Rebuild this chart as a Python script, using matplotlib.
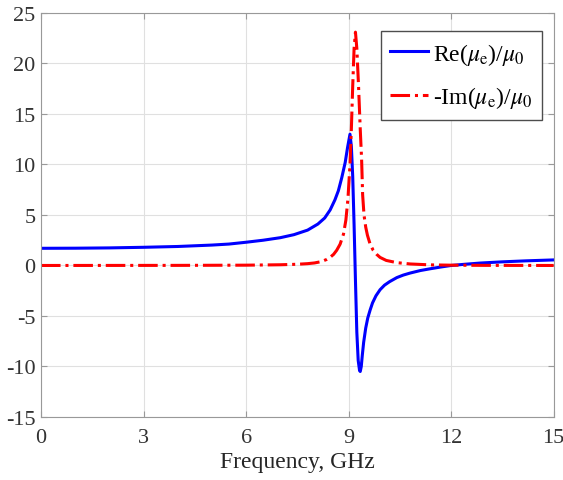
import matplotlib
matplotlib.use("Agg")
import matplotlib.pyplot as plt

# values (frequency in GHz)
freq_re = [0.0, 1.0, 2.0, 3.0, 4.0, 5.0, 5.5, 6.0, 6.5, 7.0, 7.4, 7.8, 8.1,
           8.3, 8.46, 8.6, 8.7, 8.8, 8.9, 8.97, 9.04, 9.08, 9.12, 9.16, 9.2,
           9.24, 9.28, 9.32, 9.34, 9.37, 9.4, 9.44, 9.5, 9.56, 9.63, 9.7, 9.8,
           9.92, 10.05, 10.2, 10.41, 10.6, 10.8, 11.1, 11.38, 11.7, 12.0,
           12.4, 12.85, 13.5, 14.2, 15.0]
re_mu = [1.7, 1.71, 1.74, 1.8, 1.88, 2.02, 2.12, 2.3, 2.5, 2.75, 3.05, 3.5,
         4.1, 4.7, 5.5, 6.5, 7.4, 8.7, 10.2, 11.7, 13.0, 11.8, 8.8, 4.0, -1.5,
         -6.6, -9.4, -10.4, -10.5, -10.0, -8.9, -7.6, -6.2, -5.2, -4.4, -3.7,
         -3.0, -2.4, -1.95, -1.6, -1.2, -0.95, -0.75, -0.5, -0.33, -0.15, 0.0,
         0.12, 0.24, 0.36, 0.46, 0.55]

freq_im = [0.0, 4.0, 6.0, 7.0, 7.5, 7.8, 8.0, 8.2, 8.36, 8.46, 8.56, 8.65,
           8.75, 8.85, 8.92, 8.98, 9.04, 9.08, 9.12, 9.16, 9.2, 9.24, 9.29,
           9.34, 9.38, 9.41, 9.45, 9.5, 9.55, 9.63, 9.72, 9.82, 9.92, 10.1,
           10.41, 10.8, 11.38, 12.0, 13.0, 15.0]
im_mu = [0.0, 0.01, 0.03, 0.07, 0.12, 0.18, 0.25, 0.38, 0.6, 0.81, 1.1, 1.5,
         2.1, 3.1, 4.5, 6.6, 10.0, 13.5, 17.8, 21.5, 23.1, 21.5, 17.8, 13.5,
         10.5, 7.0, 5.0, 3.8, 3.0, 2.1, 1.5, 1.1, 0.8, 0.5, 0.28, 0.15, 0.06,
         0.03, 0.01, 0.0]

xticks = [0, 3, 6, 9, 12, 15]
yticks = [-15, -10, -5, 0, 5, 10, 15, 20, 25]

plt.rcParams['font.family'] = ['Liberation Serif', 'DejaVu Serif']
plt.rcParams['mathtext.fontset'] = 'stix'
plt.rcParams['axes.unicode_minus'] = False

fig = plt.figure(figsize=(5.63, 4.81), dpi=100)
ax = fig.add_axes([0.0728, 0.131, 0.9107, 0.84])

ax.plot(freq_re, re_mu, color='#0000ff', lw=2.2, label=r'Re($\mu_{\rm e}$)/$\mu_0$')
ax.plot(freq_im, im_mu, color='#ff0000', lw=2.2, ls='-.',
        label=r'-Im($\mu_{\rm e}$)/$\mu_0$')

ax.set_xlim(0, 15)
ax.set_ylim(-15, 25)
ax.set_xticks(xticks)
ax.set_yticks(yticks)
ax.grid(True, color='0.88', lw=0.8)
ax.set_axisbelow(True)
for s in ax.spines.values():
    s.set_color('0.6')
ax.tick_params(direction='in', colors='0.6', labelcolor='0.2', labelsize=16,
               top=True, right=True, length=4)
ax.tick_params(axis='x', pad=8)
ax.tick_params(axis='y', pad=4)
ax.set_xlabel('Frequency, GHz', fontsize=17, color='0.15', labelpad=3)

leg = ax.legend(loc='upper right', bbox_to_anchor=(0.977, 0.955), fontsize=17,
                fancybox=False, framealpha=1, edgecolor='0.3',
                handlelength=1.6, handletextpad=0.2, labelspacing=0.75,
                borderpad=0.4, borderaxespad=0)
leg.get_frame().set_linewidth(1)

fig.savefig('out.png', dpi=100)
